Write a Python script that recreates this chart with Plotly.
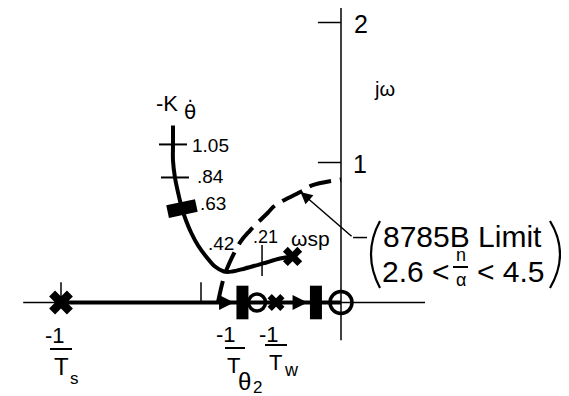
import plotly.graph_objects as go

# open-loop poles and zeros (s-plane, 1/sec)
pole_re = [-2.0, -0.464, -0.346]
pole_im = [0.0, 0.0, 0.329]
zero_re = [-0.6, 0.0]
zero_im = [0.0, 0.0]

# closed-loop roots on the real axis
cl_re = [-0.704, -0.179]
cl_im = [0.0, 0.0]

# short period branch, from the omega_sp pole up to the top of the sketch
locus_re = [-0.346, -0.436, -0.557, -0.686, -0.779, -0.836, -0.900, -0.964, -1.021,
            -1.071, -1.107, -1.136, -1.164, -1.186, -1.200, -1.200, -1.200]
locus_im = [0.329, 0.314, 0.279, 0.243, 0.221, 0.221, 0.257, 0.329, 0.407,
            0.500, 0.586, 0.671, 0.786, 0.893, 1.014, 1.129, 1.264]

# real-axis branch, from -1/Ts to the origin
real_re = [-2.0, 0.0]
real_im = [0.0, 0.0]

# gain marks on the short period branch
gain_labels = ['1.05', '.84', '.63', '.42', '.21']
tick_re = [-1.200, -1.186]
tick_im = [1.129, 0.893]
sq_re = [-1.136]
sq_im = [0.671]
tick21_re = [-0.564]
tick21_im = [0.300]

# 8785B limit boundary (dashed)
limit_re = [-0.879, -0.843, -0.814, -0.721, -0.650, -0.521, -0.471, -0.271, -0.207, 0.0]
limit_im = [0.0, 0.157, 0.243, 0.429, 0.514, 0.643, 0.693, 0.800, 0.836, 0.879]

# axis ticks
real_ticks = [-2, -1]
imag_ticks = [1, 2]

FONT = 'Liberation Sans'
# the page body keeps its default 8px margin, so the figure starts 8px in
OFF = 8


def dx(p):
    return (p - 341) / 140


def dy(p):
    return (302.5 - p) / 140


fig = go.Figure()

# axes
fig.add_trace(go.Scatter(x=[-2.27, 0.6], y=[0, 0], mode='lines',
                         line=dict(color='black', width=1.3)))
fig.add_trace(go.Scatter(x=[0, 0], y=[-0.27, 2.11], mode='lines',
                         line=dict(color='black', width=1.5)))
tx, ty = [], []
for t in real_ticks:
    tx += [t, t, None]
    ty += [0, 0.145, None]
for t in imag_ticks:
    tx += [-0.165, 0, None]
    ty += [t, t, None]
fig.add_trace(go.Scatter(x=tx, y=ty, mode='lines', line=dict(color='black', width=1.5)))

# locus branches
fig.add_trace(go.Scatter(x=real_re, y=real_im, mode='lines',
                         line=dict(color='black', width=4)))
fig.add_trace(go.Scatter(x=locus_re, y=locus_im, mode='lines',
                         line=dict(color='black', width=4, shape='spline')))
fig.add_trace(go.Scatter(x=limit_re, y=limit_im, mode='lines',
                         line=dict(color='black', width=4, shape='spline', dash='22px,9px')))

# leader line to the limit curve
fig.add_trace(go.Scatter(x=[0.186, 0.086], y=[0.464, 0.464], mode='lines',
                         line=dict(color='black', width=1.5)))

# poles / zeros / roots
fig.add_trace(go.Scatter(x=pole_re, y=pole_im, mode='markers',
                         marker=dict(symbol='x', size=[21, 15, 17], color='black',
                                     opacity=1, line=dict(width=0))))
fig.add_trace(go.Scatter(x=zero_re, y=zero_im, mode='markers',
                         marker=dict(symbol='circle', size=[17, 22], color='rgba(0,0,0,0)',
                                     opacity=1, line=dict(color='black', width=3.5))))
fig.add_trace(go.Scatter(x=cl_re, y=cl_im, mode='markers',
                         marker=dict(symbol='line-ns', size=24, color='black',
                                     line=dict(color='black', width=12))))
fig.add_trace(go.Scatter(x=sq_re, y=sq_im, mode='markers',
                         marker=dict(symbol='line-ew', size=21, angle=-12, color='black',
                                     line=dict(color='black', width=13))))
fig.add_trace(go.Scatter(x=tick_re, y=tick_im, mode='markers',
                         marker=dict(symbol='line-ew', size=20, color='black',
                                     line=dict(color='black', width=2))))
fig.add_trace(go.Scatter(x=tick21_re, y=tick21_im, mode='markers',
                         marker=dict(symbol='line-ns', size=22, color='black',
                                     line=dict(color='black', width=1.5))))

ann = []


def label(text, xp, yp, size, anchor='left', family=FONT):
    ann.append(dict(x=dx(xp), y=dy(yp), text=text, showarrow=False, xanchor=anchor,
                    yanchor='middle', font=dict(family=family, size=size, color='black')))


# arrows on the real axis
for r in cl_re:
    ann.append(dict(x=r - 0.06, y=0, ax=r - 0.2, ay=0, axref='x', ayref='y',
                    xref='x', yref='y', text='', showarrow=True, arrowhead=2,
                    arrowsize=1.2, arrowwidth=2.5, arrowcolor='black'))
# leader arrowhead
ann.append(dict(x=-0.29, y=0.79, ax=0.086, ay=0.464, axref='x', ayref='y',
                xref='x', yref='y', text='', showarrow=True, arrowhead=2,
                arrowsize=1.6, arrowwidth=1.5, arrowcolor='black'))

label('-K', 154, 103, 22)
label('θ̇', 190, 111, 20, 'center', 'DejaVu Sans')
label(gain_labels[0], 190, 145, 19)
label(gain_labels[1], 195, 176, 19)
label(gain_labels[2], 198, 203, 19)
label(gain_labels[3], 206, 243, 19)
label(gain_labels[4], 251, 237, 18)
label('ωsp', 289, 238, 21)
label('jω', 372, 89, 20)
label('2', 352, 24, 25)
label('1', 351, 164, 25)

# 8785B limit note
label('8785B Limit', 381, 236, 30)
label('2.6 <', 380, 271, 30)
label('< 4.5', 475, 271, 30)
label('n', 461, 255, 18, 'center')
label('α', 461, 280, 18, 'center')

# real-axis labels
label('-1', 55, 335, 22, 'center')
label('T', 61, 366, 24, 'center')
label('s', 74, 378, 17, 'center')
label('-1', 226, 334, 22, 'center')
label('T', 233, 365, 22, 'center')
label('θ', 244, 381, 24, 'center')
label('2', 257, 387, 17, 'center')
label('-1', 269, 334, 22, 'center')
label('T', 275, 362, 22, 'center')
label('w', 291, 370, 18, 'center')

bars = [(50, 72, 349), (225, 245, 348), (265, 287, 345), (453, 468, 267)]
shapes = [dict(type='line', x0=dx(a), x1=dx(b), y0=dy(c), y1=dy(c), xref='x', yref='y',
               line=dict(color='black', width=2)) for a, b, c in bars]
# big parentheses round the limit note
for x0, xc in [(380, 362), (550, 570)]:
    shapes.append(dict(type='path', xref='x', yref='y',
                       path=f'M {dx(x0)},{dy(221)} Q {dx(xc)},{dy(254)} {dx(x0)},{dy(288)}',
                       line=dict(color='black', width=2.2)))

fig.update_layout(
    width=569 - OFF, height=396 - OFF,
    margin=dict(l=0, r=0, t=0, b=0),
    paper_bgcolor='white', plot_bgcolor='white',
    showlegend=False,
    xaxis=dict(range=[dx(OFF), dx(569)], visible=False, fixedrange=True),
    yaxis=dict(range=[dy(396), dy(OFF)], visible=False, fixedrange=True),
    annotations=ann,
    shapes=shapes,
)

fig.write_html("out.html")
